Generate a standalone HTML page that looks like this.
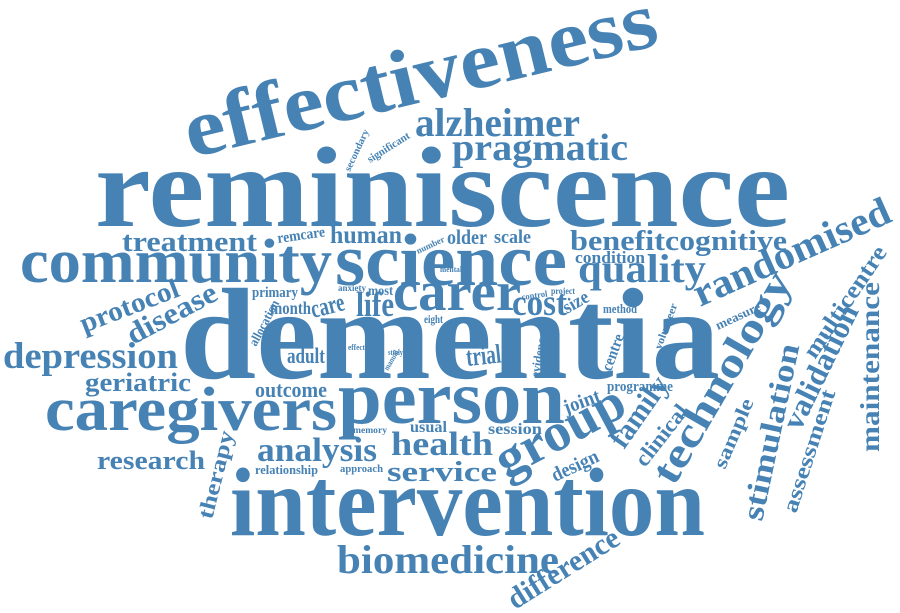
<!DOCTYPE html>
<html><head><meta charset="utf-8"><style>
html,body{margin:0;padding:0;background:#fff;width:900px;height:613px;overflow:hidden}
svg text{font-family:"Liberation Serif",serif;font-weight:bold;fill:#4682b4}
</style></head><body>
<svg width="900" height="613" viewBox="0 0 900 613" xmlns="http://www.w3.org/2000/svg">
<g>
<text x="95" y="226" font-size="114" textLength="695" lengthAdjust="spacingAndGlyphs">reminiscence</text>
<text x="180" y="378" font-size="130" textLength="540" lengthAdjust="spacingAndGlyphs">dementia</text>
<text transform="translate(191,158) rotate(-13.6)" font-size="82" textLength="484" lengthAdjust="spacingAndGlyphs">effectiveness</text>
<text x="230" y="535" font-size="98" textLength="475" lengthAdjust="spacingAndGlyphs">intervention</text>
<text x="338" y="423" font-size="76" textLength="227" lengthAdjust="spacingAndGlyphs">person</text>
<text x="335" y="285" font-size="74" textLength="232" lengthAdjust="spacingAndGlyphs">science</text>
<text x="20" y="282" font-size="62" textLength="312" lengthAdjust="spacingAndGlyphs">community</text>
<text x="45" y="430" font-size="62" textLength="292" lengthAdjust="spacingAndGlyphs">caregivers</text>
<text x="393" y="310" font-size="56" textLength="128" lengthAdjust="spacingAndGlyphs">carer</text>
<text x="415" y="136" font-size="40" textLength="165" lengthAdjust="spacingAndGlyphs">alzheimer</text>
<text x="452" y="160" font-size="38" textLength="176" lengthAdjust="spacingAndGlyphs">pragmatic</text>
<text x="122" y="251" font-size="28" textLength="135" lengthAdjust="spacingAndGlyphs">treatment</text>
<text transform="translate(278,243) rotate(-8)" font-size="15" textLength="48" lengthAdjust="spacingAndGlyphs">remcare</text>
<text x="330" y="243" font-size="25" textLength="72" lengthAdjust="spacingAndGlyphs">human</text>
<text transform="translate(418,254) rotate(-25)" font-size="9" textLength="30" lengthAdjust="spacingAndGlyphs">number</text>
<text x="447" y="244" font-size="21" textLength="40" lengthAdjust="spacingAndGlyphs">older</text>
<text x="494" y="243" font-size="19" textLength="37" lengthAdjust="spacingAndGlyphs">scale</text>
<text x="570" y="250" font-size="29" textLength="95" lengthAdjust="spacingAndGlyphs">benefit</text>
<text x="665" y="250" font-size="29" textLength="122" lengthAdjust="spacingAndGlyphs">cognitive</text>
<text x="575" y="263" font-size="17" textLength="70" lengthAdjust="spacingAndGlyphs">condition</text>
<text x="578" y="282" font-size="40" textLength="128" lengthAdjust="spacingAndGlyphs">quality</text>
<text x="440" y="272" font-size="8" textLength="22" lengthAdjust="spacingAndGlyphs">mental</text>
<text transform="translate(700,307) rotate(-24)" font-size="40" textLength="212" lengthAdjust="spacingAndGlyphs">randomised</text>
<text transform="translate(84,333) rotate(-21)" font-size="28" textLength="104" lengthAdjust="spacingAndGlyphs">protocol</text>
<text transform="translate(133,345) rotate(-28)" font-size="30" textLength="98" lengthAdjust="spacingAndGlyphs">disease</text>
<text x="3" y="368" font-size="37" textLength="175" lengthAdjust="spacingAndGlyphs">depression</text>
<text x="85" y="391" font-size="26" textLength="106" lengthAdjust="spacingAndGlyphs">geriatric</text>
<text x="97" y="469" font-size="26" textLength="108" lengthAdjust="spacingAndGlyphs">research</text>
<text transform="translate(212,520) rotate(-76)" font-size="22" textLength="90" lengthAdjust="spacingAndGlyphs">therapy</text>
<text x="252" y="297" font-size="15" textLength="46" lengthAdjust="spacingAndGlyphs">primary</text>
<text x="338" y="291" font-size="9" textLength="28" lengthAdjust="spacingAndGlyphs">anxiety</text>
<text x="368" y="295" font-size="14" textLength="25" lengthAdjust="spacingAndGlyphs">most</text>
<text transform="translate(256,347) rotate(-62)" font-size="13" textLength="50" lengthAdjust="spacingAndGlyphs">allocation</text>
<text x="270" y="314" font-size="18" textLength="41" lengthAdjust="spacingAndGlyphs">month</text>
<text transform="translate(313,318) rotate(-14)" font-size="26" textLength="34" lengthAdjust="spacingAndGlyphs">care</text>
<text x="356" y="316" font-size="35" textLength="38" lengthAdjust="spacingAndGlyphs">life</text>
<text x="512" y="315" font-size="37" textLength="55" lengthAdjust="spacingAndGlyphs">cost</text>
<text transform="translate(522,300) rotate(-8)" font-size="9" textLength="26" lengthAdjust="spacingAndGlyphs">control</text>
<text x="551" y="294" font-size="9" textLength="24" lengthAdjust="spacingAndGlyphs">project</text>
<text transform="translate(567,314) rotate(-30)" font-size="19" textLength="27" lengthAdjust="spacingAndGlyphs">size</text>
<text x="603" y="313" font-size="13" textLength="34" lengthAdjust="spacingAndGlyphs">method</text>
<text x="424" y="323" font-size="12" textLength="19" lengthAdjust="spacingAndGlyphs">eight</text>
<text x="348" y="350" font-size="8" textLength="17" lengthAdjust="spacingAndGlyphs">effect</text>
<text x="388" y="355" font-size="8" textLength="15" lengthAdjust="spacingAndGlyphs">study</text>
<text transform="translate(388,371) rotate(-60)" font-size="8" textLength="22" lengthAdjust="spacingAndGlyphs">manual</text>
<text x="287" y="363" font-size="22" textLength="38" lengthAdjust="spacingAndGlyphs">adult</text>
<text transform="translate(467,366) rotate(-6)" font-size="27" textLength="35" lengthAdjust="spacingAndGlyphs">trial</text>
<text transform="translate(539,378) rotate(-80)" font-size="13" textLength="45" lengthAdjust="spacingAndGlyphs">evidence</text>
<text transform="translate(611,372) rotate(-70)" font-size="16" textLength="38" lengthAdjust="spacingAndGlyphs">centre</text>
<text transform="translate(661,350) rotate(-70)" font-size="11" textLength="48" lengthAdjust="spacingAndGlyphs">volunteer</text>
<text transform="translate(718,330) rotate(-25)" font-size="13" textLength="48" lengthAdjust="spacingAndGlyphs">measure</text>
<text x="255" y="397" font-size="22" textLength="72" lengthAdjust="spacingAndGlyphs">outcome</text>
<text x="607" y="391" font-size="15" textLength="66" lengthAdjust="spacingAndGlyphs">programme</text>
<text transform="translate(566,414) rotate(-20)" font-size="20" textLength="38" lengthAdjust="spacingAndGlyphs">joint</text>
<text x="353" y="433" font-size="9" textLength="34" lengthAdjust="spacingAndGlyphs">memory</text>
<text x="410" y="432" font-size="16" textLength="37" lengthAdjust="spacingAndGlyphs">usual</text>
<text x="488" y="434" font-size="16" textLength="54" lengthAdjust="spacingAndGlyphs">session</text>
<text x="257" y="461" font-size="34" textLength="120" lengthAdjust="spacingAndGlyphs">analysis</text>
<text x="391" y="455" font-size="34" textLength="102" lengthAdjust="spacingAndGlyphs">health</text>
<text x="387" y="481" font-size="29" textLength="110" lengthAdjust="spacingAndGlyphs">service</text>
<text x="255" y="474" font-size="13" textLength="63" lengthAdjust="spacingAndGlyphs">relationship</text>
<text x="340" y="472" font-size="11" textLength="43" lengthAdjust="spacingAndGlyphs">approach</text>
<text transform="translate(506,479) rotate(-28)" font-size="54" textLength="140" lengthAdjust="spacingAndGlyphs">group</text>
<text transform="translate(555,482) rotate(-25)" font-size="20" textLength="50" lengthAdjust="spacingAndGlyphs">design</text>
<text transform="translate(624,450) rotate(-55)" font-size="30" textLength="80" lengthAdjust="spacingAndGlyphs">family</text>
<text transform="translate(645,468) rotate(-52)" font-size="22" textLength="72" lengthAdjust="spacingAndGlyphs">clinical</text>
<text transform="translate(674,487) rotate(-60)" font-size="42" textLength="238" lengthAdjust="spacingAndGlyphs">technology</text>
<text transform="translate(725,470) rotate(-67)" font-size="20" textLength="74" lengthAdjust="spacingAndGlyphs">sample</text>
<text transform="translate(762,522) rotate(-78)" font-size="31" textLength="180" lengthAdjust="spacingAndGlyphs">stimulation</text>
<text transform="translate(796,514) rotate(-72)" font-size="22" textLength="128" lengthAdjust="spacingAndGlyphs">assessment</text>
<text transform="translate(800,432) rotate(-64)" font-size="31" textLength="135" lengthAdjust="spacingAndGlyphs">validation</text>
<text transform="translate(815,360) rotate(-56)" font-size="24" textLength="130" lengthAdjust="spacingAndGlyphs">multicentre</text>
<text transform="translate(879,452) rotate(-90)" font-size="27" textLength="170" lengthAdjust="spacingAndGlyphs">maintenance</text>
<text x="337" y="573" font-size="40" textLength="222" lengthAdjust="spacingAndGlyphs">biomedicine</text>
<text transform="translate(515,610) rotate(-32)" font-size="30" textLength="126" lengthAdjust="spacingAndGlyphs">difference</text>
<text transform="translate(350,172) rotate(-65)" font-size="10" textLength="45" lengthAdjust="spacingAndGlyphs">secondary</text>
<text transform="translate(370,163) rotate(-32)" font-size="11" textLength="48" lengthAdjust="spacingAndGlyphs">significant</text>
</g>
</svg>
</body></html>
